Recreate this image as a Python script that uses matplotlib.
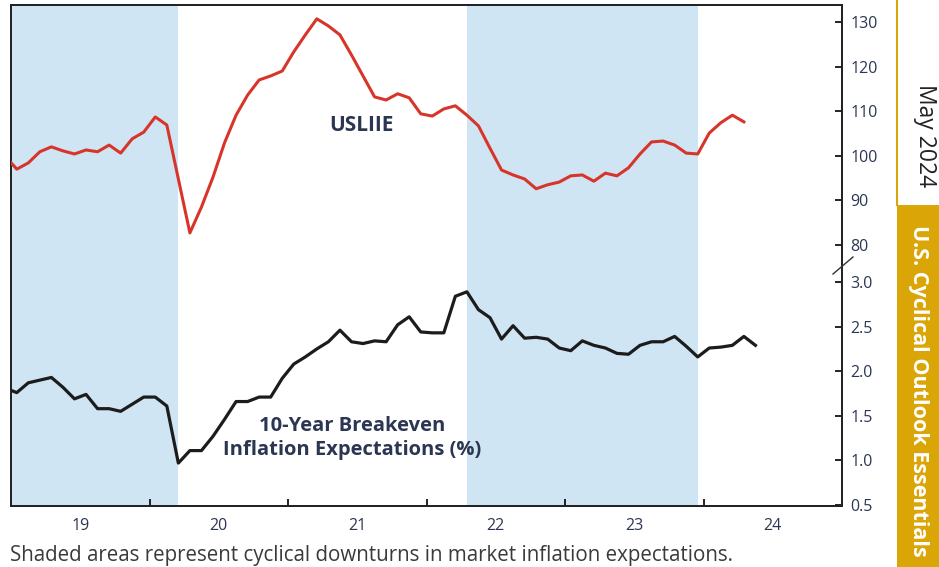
import matplotlib
matplotlib.use("Agg")
import matplotlib.pyplot as plt
from matplotlib.lines import Line2D
from matplotlib.patches import Rectangle
from matplotlib.ticker import FormatStrFormatter

plt.rcParams['font.family'] = ['Open Sans', 'DejaVu Sans']

# monthly readings, Dec 2018 .. May 2024 (mid-month)
start_year, start_month = 2018, 12
usliie = [99.9, 97.0, 98.4, 100.9, 102.0, 101.1, 100.4, 101.3, 100.9, 102.4, 100.6,
          103.8, 105.3, 108.7, 106.9, 94.8, 82.7, 88.5, 95.2, 102.9, 109.1,
          113.6, 117.0, 117.9, 119.0, 123.3, 127.1, 130.7, 129.1, 127.1, 122.6,
          117.9, 113.2, 112.5, 113.9, 113.0, 109.4, 108.9, 110.5, 111.2, 109.1,
          106.7, 101.7, 96.8, 95.7, 94.8, 92.6, 93.5, 94.1, 95.5, 95.7,
          94.3, 96.1, 95.5, 97.3, 100.4, 103.1, 103.3, 102.4, 100.6, 100.4,
          105.1, 107.4, 109.1, 107.6]
breakeven = [1.81, 1.76, 1.87, 1.90, 1.93, 1.82, 1.69, 1.74, 1.58, 1.58, 1.55,
             1.63, 1.71, 1.71, 1.61, 0.97, 1.11, 1.11, 1.27, 1.46, 1.66,
             1.66, 1.71, 1.71, 1.92, 2.08, 2.16, 2.25, 2.33, 2.46, 2.33,
             2.31, 2.34, 2.33, 2.52, 2.61, 2.44, 2.43, 2.43, 2.84, 2.89,
             2.69, 2.60, 2.36, 2.51, 2.37, 2.38, 2.36, 2.26, 2.23, 2.34,
             2.29, 2.26, 2.20, 2.19, 2.29, 2.33, 2.33, 2.39, 2.28, 2.16,
             2.26, 2.27, 2.29, 2.39, 2.29]

# cyclical downturns (start, end) as fractional years
downturns = [(2019.0, 2020 + 2.5 / 12), (2022 + 3.5 / 12, 2023 + 11.5 / 12)]

year_labels = ['19', '20', '21', '22', '23', '24']
usliie_ticks = [80, 90, 100, 110, 120, 130]
breakeven_ticks = [0.5, 1.0, 1.5, 2.0, 2.5, 3.0]


def month_x(i):
    m = start_month - 1 + i
    return start_year + m // 12 + (m % 12 + 0.5) / 12


x_red = [month_x(i) for i in range(len(usliie))]
x_blk = [month_x(i) for i in range(len(breakeven))]

navy = '#2b3652'
fig = plt.figure(figsize=(9.39, 5.67), dpi=100)
ax = fig.add_axes([11 / 939, 1 - 506 / 567, 831 / 939, 501 / 567])
ax2 = ax.twinx()

for a, b in downturns:
    ax.axvspan(a, b, color='#cfe5f3', lw=0, zorder=0)

ax.plot(x_blk, breakeven, color='#1c1c1c', lw=2.3, zorder=3)
ax2.plot(x_red, usliie, color='#d8352a', lw=2.2, zorder=3)

ax.set_xlim(2019, 2025)
ax.set_ylim(0.489, 6.105)
ax2.set_ylim(21.48, 133.8)

ax.set_xticks([2020, 2021, 2022, 2023, 2024])
ax.set_xticklabels([])
ax.set_xticks([2019.5 + i for i in range(len(year_labels))], minor=True)
ax.set_xticklabels(year_labels, minor=True)
ax.tick_params(axis='x', which='major', direction='in', length=5, width=1.2)
ax.tick_params(axis='x', which='minor', length=0, pad=9, labelsize=11.5, labelcolor=navy)

ax.yaxis.tick_right()
ax.set_yticks(breakeven_ticks)
ax.yaxis.set_major_formatter(FormatStrFormatter('%.1f'))
ax.tick_params(axis='y', direction='in', length=5, width=1.2, pad=6,
               labelsize=11.5, labelcolor=navy)
ax2.set_yticks(usliie_ticks)
ax2.tick_params(axis='y', direction='in', length=5, width=1.2, pad=6,
                labelsize=11.5, labelcolor=navy)

for a in (ax, ax2):
    for s in a.spines.values():
        s.set_linewidth(1.3)
        s.set_color('#222222')

ax2.text(2021.53, 106.7, 'USLIIE', ha='center', va='center', fontsize=15,
         fontweight='bold', color=navy)
ax.text(2021.46, 1.25, '10-Year Breakeven\nInflation Expectations (%)', ha='center',
        va='center', fontsize=14.5, fontweight='bold', color=navy, linespacing=1.3)

# axis break mark
fig.add_artist(Line2D([833 / 939, 853 / 939], [1 - 274 / 567, 1 - 257 / 567],
                      color='#333333', lw=1.0))

fig.text(10 / 939, 1 - 556 / 567, 'Shaded areas represent cyclical downturns in market inflation expectations.',
         ha='left', va='center', fontsize=14.8, color='#3a3a3a')

# sidebar
fig.add_artist(Line2D([897 / 939, 897 / 939], [1 - 205 / 567, 1.0], color='#d9a507', lw=1.5))
fig.add_artist(Rectangle((897 / 939, 0), 42 / 939, 1 - 205 / 567, transform=fig.transFigure,
                         color='#d9a507', lw=0))
fig.text(925 / 939, 1 - 136 / 567, 'May 2024', rotation=270, ha='center', va='center',
         fontsize=16.5, color='#222222')
fig.text(919 / 939, 1 - 391 / 567, 'U.S. Cyclical Outlook Essentials', rotation=270,
         ha='center', va='center', fontsize=15.5, fontweight='bold', color='white')

fig.savefig('out.png', dpi=100)
